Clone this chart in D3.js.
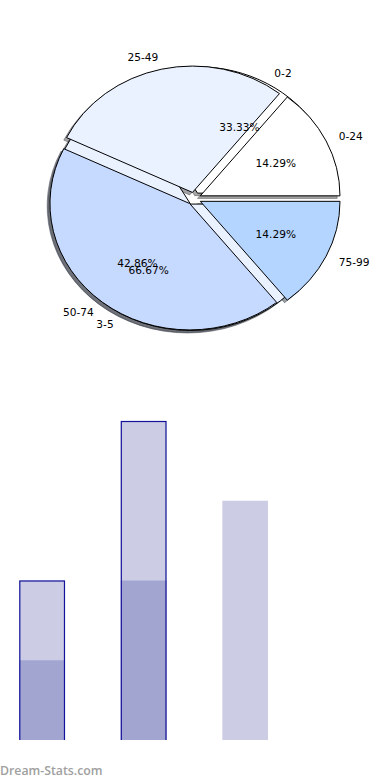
<!DOCTYPE html>
<html>
<head>
<meta charset="utf-8">
<script src="https://cdn.jsdelivr.net/npm/d3@7"></script>
<style>
  html, body { margin: 0; padding: 0; background: #ffffff; }
  svg { display: block; }
</style>
</head>
<body>
<div id="chart"></div>
<script>
// ---- data ----
const pieACategories = ["0-24", "25-49", "50-74", "75-99"];
const pieAValues = [1, 2, 3, 1];
const pieAShowPct = [true, false, true, true];
const pieBCategories = ["0-2", "3-5"];
const pieBValues = [1, 2];
const pieBShowPct = [true, true];
const pieColors = ["#ffffff", "#eaf1ff", "#c6d9ff", "#b4d5ff"];
const explodeA = [0.05, 0.05, 0.05, 0.05];
const explodeB = [0.05, 0.05];

const barCategories = ["A", "B", "C"];
const barLight = [2, 4, 3];
const barDark = [1, 2, 0];
const barOutlined = [true, true, false];

// ---- layout ----
const W = 390, H = 780;
const cx = 194, cy = 198.6, rx = 139.7, ry = 126.4;

const svg = d3.select("#chart").append("svg")
  .attr("width", W).attr("height", H);

const arc = d3.arc().innerRadius(0).outerRadius(1);

function layoutPie(values, explode) {
  const p = d3.pie().sort(null).value(d => d)
    .startAngle(Math.PI / 2).endAngle(Math.PI / 2 - 2 * Math.PI)(values);
  return p.map((d, i) => {
    const m = (d.startAngle + d.endAngle) / 2;
    const ux = Math.sin(m), uy = -Math.cos(m);
    return { d, i, ux, uy, ex: explode[i] * ux, ey: explode[i] * uy, e: explode[i] };
  });
}

const pieA = layoutPie(pieAValues, explodeA);
const pieB = layoutPie(pieBValues, explodeB);

const g = svg.append("g").attr("transform", `translate(${cx},${cy}) scale(${rx},${ry})`);

function shade(c) {
  const col = d3.rgb(c);
  return d3.rgb(col.r * 0.3, col.g * 0.3, col.b * 0.3).formatHex();
}

// shadows (below everything)
function drawShadows(pie) {
  g.append("g").selectAll("path").data(pie).join("path")
    .attr("d", s => arc(s.d))
    .attr("transform", s => `translate(${s.ex - 0.02},${s.ey + 0.02})`)
    .attr("fill", s => shade(pieColors[s.i % pieColors.length]))
    .attr("fill-opacity", 0.5)
    .attr("stroke", s => shade(pieColors[s.i % pieColors.length]))
    .attr("stroke-opacity", 0.5)
    .attr("stroke-width", 1)
    .attr("vector-effect", "non-scaling-stroke");
}
function drawWedges(pie) {
  g.append("g").selectAll("path").data(pie).join("path")
    .attr("d", s => arc(s.d))
    .attr("transform", s => `translate(${s.ex},${s.ey})`)
    .attr("fill", s => pieColors[s.i % pieColors.length])
    .attr("stroke", "#000")
    .attr("stroke-width", 1)
    .attr("vector-effect", "non-scaling-stroke");
}
drawShadows(pieB);
drawShadows(pieA);
drawWedges(pieB);
drawWedges(pieA);

// labels
const fontSize = 10.6;
function drawLabels(pie, cats, values, show) {
  const total = d3.sum(values);
  pie.forEach(s => {
    const lx = (s.e + 1.1) * s.ux, ly = (s.e + 1.1) * s.uy;
    svg.append("text")
      .attr("x", cx + lx * rx).attr("y", cy + ly * ry)
      .attr("text-anchor", lx > 0 ? "start" : "end")
      .attr("dominant-baseline", "central")
      .attr("font-family", "DejaVu Sans, sans-serif")
      .attr("font-size", fontSize)
      .attr("fill", "#000")
      .text(cats[s.i]);
    if (show[s.i]) {
      const px = (s.e + 0.6) * s.ux, py = (s.e + 0.6) * s.uy;
      svg.append("text")
        .attr("x", cx + px * rx).attr("y", cy + py * ry)
        .attr("text-anchor", "middle")
        .attr("dominant-baseline", "central")
        .attr("font-family", "DejaVu Sans, sans-serif")
        .attr("font-size", fontSize)
        .attr("fill", "#000")
        .text((values[s.i] / total * 100).toFixed(2) + "%");
    }
  });
}
drawLabels(pieB, pieBCategories, pieBValues, pieBShowPct);
drawLabels(pieA, pieACategories, pieAValues, pieAShowPct);

// ---- bars ----
const x = d3.scaleBand().domain(barCategories).range([19.3, 268]).paddingInner(0.55).paddingOuter(0);
const y = d3.scaleLinear().domain([0, 4]).range([740, 421]);

svg.append("clipPath").attr("id", "barclip")
  .append("rect").attr("x", 0).attr("y", 0).attr("width", W).attr("height", 740);

const bg = svg.append("g").attr("clip-path", "url(#barclip)");
bg.selectAll("rect.light").data(barLight).join("rect").attr("class", "light")
  .attr("x", (d, i) => x(barCategories[i]))
  .attr("width", x.bandwidth())
  .attr("y", d => y(d))
  .attr("height", d => y(0) - y(d))
  .attr("fill", "#cccce4");
bg.selectAll("rect.dark").data(barDark).join("rect").attr("class", "dark")
  .attr("x", (d, i) => x(barCategories[i]))
  .attr("width", x.bandwidth())
  .attr("y", d => y(d))
  .attr("height", d => y(0) - y(d))
  .attr("fill", "#a3a5d1");
bg.selectAll("rect.outline").data(barLight.map((d, i) => ({ v: d, c: barCategories[i], o: barOutlined[i] })).filter(d => d.o))
  .join("rect").attr("class", "outline")
  .attr("x", d => x(d.c) + 0.5)
  .attr("width", x.bandwidth() - 1)
  .attr("y", d => y(d.v) + 0.5)
  .attr("height", d => y(0) - y(d.v) + 2)
  .attr("fill", "none")
  .attr("stroke", "#13139a")
  .attr("stroke-width", 1.2);

// watermark
svg.append("text")
  .attr("x", 0).attr("y", 775)
  .attr("font-family", "Open Sans, sans-serif")
  .attr("font-size", 12.3)
  .attr("font-weight", 600)
  .attr("fill", "#a0a0a0")
  .text("Dream-Stats.com");
</script>
</body>
</html>
